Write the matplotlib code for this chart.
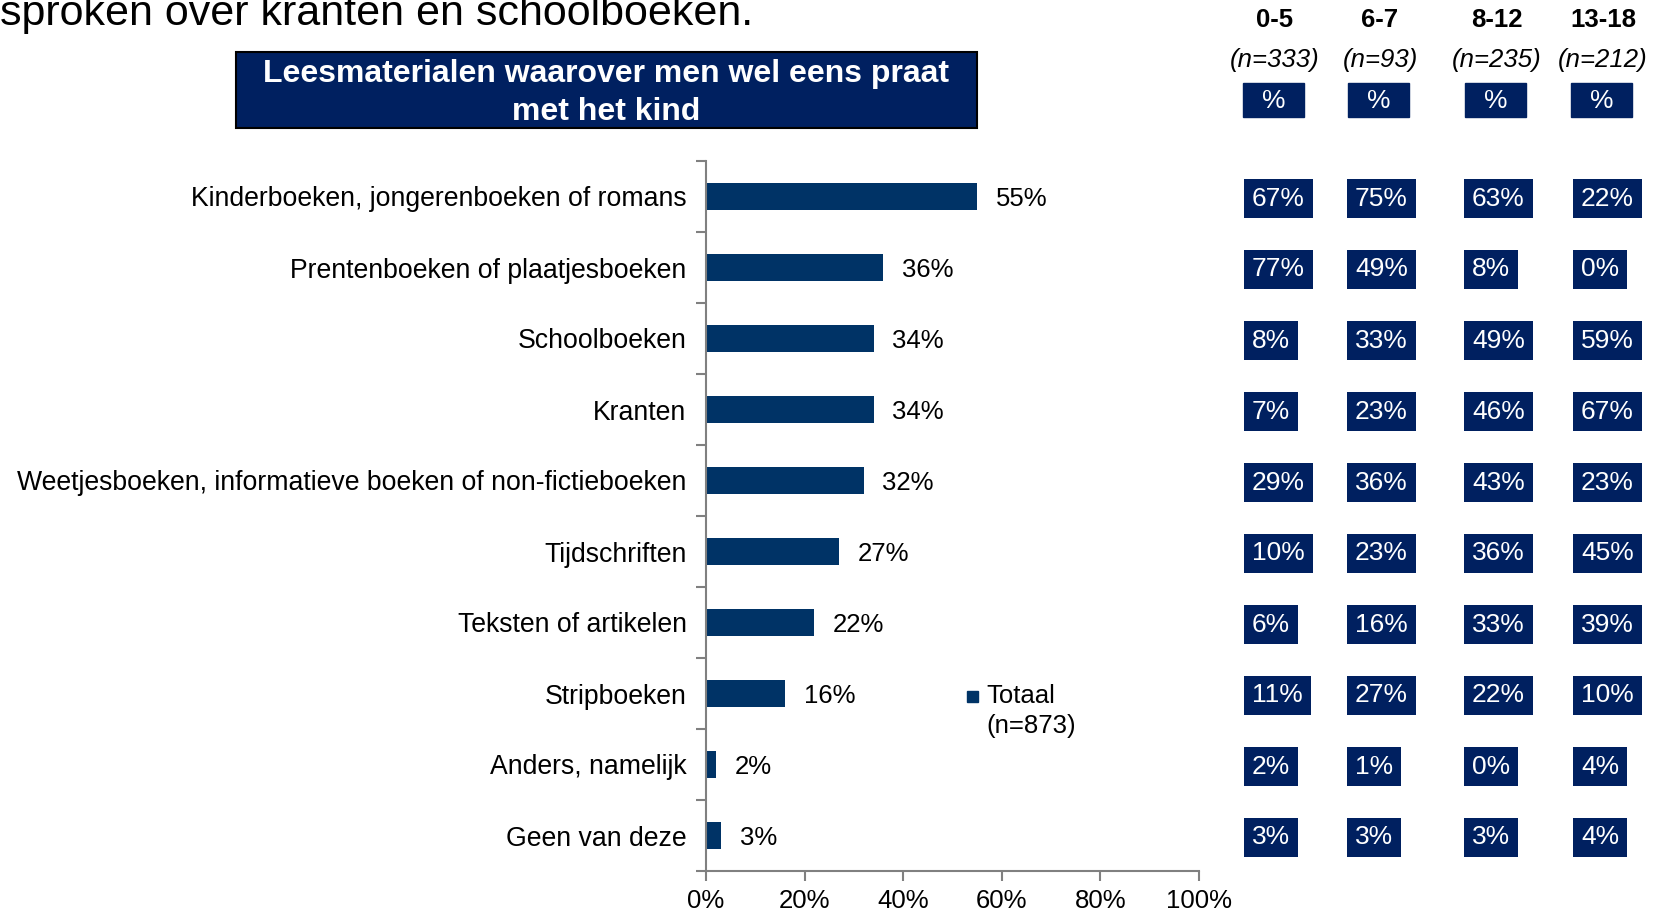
import matplotlib.pyplot as plt
from matplotlib.patches import Rectangle

plt.rcParams["font.family"] = ["Liberation Sans", "DejaVu Sans"]

categories = ["Kinderboeken, jongerenboeken of romans",
              "Prentenboeken of plaatjesboeken",
              "Schoolboeken",
              "Kranten",
              "Weetjesboeken, informatieve boeken of non-fictieboeken",
              "Tijdschriften",
              "Teksten of artikelen",
              "Stripboeken",
              "Anders, namelijk",
              "Geen van deze"]
totaal = [55, 36, 34, 34, 32, 27, 22, 16, 2, 3]

age_groups = ["0-5", "6-7", "8-12", "13-18"]
group_n = ["(n=333)", "(n=93)", "(n=235)", "(n=212)"]
group_values = [
    [67, 77, 8, 7, 29, 10, 6, 11, 2, 3],
    [75, 49, 33, 23, 36, 23, 16, 27, 1, 3],
    [63, 8, 49, 46, 43, 36, 33, 22, 0, 3],
    [22, 0, 59, 67, 23, 45, 39, 10, 4, 4],
]

bar_color = "#003366"
box_color = "#002060"
W, H = 1653, 915

fig = plt.figure(figsize=(W / 100, H / 100), dpi=100)


def fx(px):
    return px / W


def fy(py):
    return 1 - py / H


ax = fig.add_axes([fx(706), fy(871), fx(1199) - fx(706), fy(161) - fy(871)])
ypos = list(range(len(categories)))
ax.barh(ypos, totaal, height=0.38, color=bar_color, edgecolor="none")
ax.set_xlim(0, 100)
ax.set_ylim(len(categories) - 0.5, -0.5)
for y, v in zip(ypos, totaal):
    ax.text(v + 3.8, y + 0.04, f"{v}%", va="center", ha="left", fontsize=18.5)

ax.set_yticks(ypos)
ax.set_yticklabels(categories, fontsize=19.2)
ax.tick_params(axis="y", length=0, pad=14)
ax.set_yticks([i - 0.5 for i in range(len(categories) + 1)], minor=True)
ax.tick_params(axis="y", which="minor", length=7, color="#808080", width=1.5)
ax.set_xticks(range(0, 101, 20))
ax.set_xticklabels([f"{t}%" for t in range(0, 101, 20)], fontsize=18.5)
ax.tick_params(axis="x", length=7, color="#808080", width=1.5, pad=6)
for s in ["top", "right"]:
    ax.spines[s].set_visible(False)
for s in ["left", "bottom"]:
    ax.spines[s].set_color("#808080")
    ax.spines[s].set_linewidth(1.5)

# legend
fig.patches.append(Rectangle((fx(967), fy(702)), fx(11), fy(691) - fy(702),
                             transform=fig.transFigure, color=bar_color))
fig.text(fx(986), fy(696), "Totaal", fontsize=18.5, va="center")
fig.text(fx(986), fy(726), "(n=873)", fontsize=18.5, va="center")

# top text and header box
fig.text(0, fy(25), "sproken over kranten en schoolboeken.", fontsize=31,
         va="baseline", ha="left")
fig.patches.append(Rectangle((fx(236), fy(128)), fx(977) - fx(236),
                             fy(52) - fy(128), transform=fig.transFigure,
                             facecolor=box_color, edgecolor="black", lw=1.5))
fig.text(fx(606), fy(93), "Leesmaterialen waarover men wel eens praat\nmet het kind",
         color="white", fontsize=23, fontweight="bold", ha="center",
         va="center", linespacing=1.38)

# table on the right
col_centers = [1275, 1380, 1497, 1603]
col_lefts = [1246, 1349, 1466, 1575]
row_y = [H - ax.transData.transform((0, y))[1] for y in ypos]
for c, (grp, n, vals) in enumerate(zip(age_groups, group_n, group_values)):
    cx = col_centers[c]
    fig.text(fx(cx), fy(20), grp, fontsize=18.5, fontweight="bold",
             ha="center", va="center")
    fig.text(fx(cx), fy(60), n, fontsize=18.5, style="italic",
             ha="center", va="center")
    fig.patches.append(Rectangle((fx(cx - 32), fy(117)), fx(61), fy(83) - fy(117),
                                 transform=fig.transFigure, color=box_color))
    fig.text(fx(cx - 1), fy(101), "%", color="white", fontsize=19,
             ha="center", va="center")
    for ry, v in zip(row_y, vals):
        fig.text(fx(col_lefts[c] + 6), fy(ry + 2), f"{v}%", color="white",
                 fontsize=19, ha="left", va="center",
                 bbox=dict(boxstyle="square,pad=0.3", fc=box_color, ec="none"))

fig.savefig("out.png", dpi=100)
